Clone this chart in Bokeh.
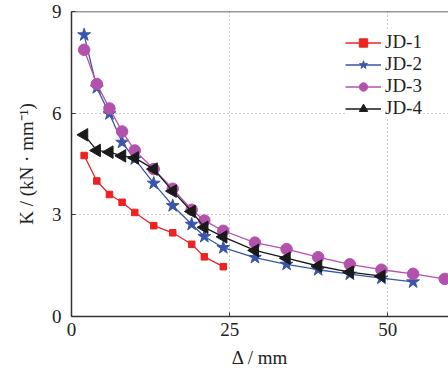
import math
from bokeh.plotting import figure
from bokeh.models import Range1d, FixedTicker, Span, Legend, LegendItem
from bokeh.embed import file_html
from bokeh.resources import INLINE

# ---- data ----
x_jd1 = [2, 4, 6, 8, 10, 13, 16, 19, 21, 24]
k_jd1 = [4.75, 4.0, 3.6, 3.37, 3.07, 2.68, 2.47, 2.13, 1.76, 1.47]

x_jd2 = [2, 4, 6, 8, 10, 13, 16, 19, 21, 24, 29, 34, 39, 44, 49, 54]
k_jd2 = [8.31, 6.75, 5.98, 5.14, 4.65, 3.93, 3.27, 2.72, 2.36, 2.03, 1.74, 1.54, 1.38, 1.25, 1.13, 1.02]

x_jd3 = [2, 4, 6, 8, 10, 13, 16, 19, 21, 24, 29, 34, 39, 44, 49, 54, 59]
k_jd3 = [7.87, 6.86, 6.14, 5.46, 4.9, 4.35, 3.77, 3.15, 2.83, 2.53, 2.18, 1.99, 1.75, 1.54, 1.38, 1.26, 1.11]

x_jd4 = [2, 4, 6, 8, 10, 13, 16, 19, 21, 24, 29, 34, 39, 44, 49]
k_jd4 = [5.36, 4.9, 4.85, 4.74, 4.68, 4.35, 3.7, 3.1, 2.63, 2.35, 1.95, 1.72, 1.49, 1.31, 1.19]

series_names = ["JD-1", "JD-2", "JD-3", "JD-4"]
x_ticks = [0, 25, 50]
y_ticks = [0, 3, 6, 9]

FONT = "Liberation Serif"
AX = "#333333"
TXT = "#222222"

p = figure(width=448, height=370, output_backend="svg", toolbar_location=None,
           x_range=Range1d(0, 59.6), y_range=Range1d(0, 9),
           min_border_left=71, min_border_top=11, min_border_right=0, min_border_bottom=54)
p.outline_line_color = None
p.background_fill_color = "white"

for ax in (p.xaxis[0], p.yaxis[0]):
    ax.axis_line_color = AX
    ax.axis_line_width = 1.5
    ax.major_tick_in = 4
    ax.major_tick_out = 0
    ax.major_tick_line_color = AX
    ax.minor_tick_line_color = None
    ax.major_label_text_font = FONT
    ax.major_label_text_font_size = "19px"
    ax.major_label_text_color = TXT
    ax.axis_label_text_font = FONT
    ax.axis_label_text_font_size = "19px"
    ax.axis_label_text_font_style = "normal"
    ax.axis_label_text_color = TXT

p.xaxis.ticker = FixedTicker(ticks=x_ticks)
p.yaxis.ticker = FixedTicker(ticks=y_ticks)
p.xaxis.major_label_standoff = 6
p.yaxis.major_label_standoff = 10
p.xaxis.axis_label = "Δ / mm"
p.yaxis.axis_label = "K / (kN · mm⁻¹)"
p.xaxis.axis_label_standoff = 8
p.yaxis.axis_label_standoff = 12

for g in (p.xgrid[0], p.ygrid[0]):
    g.grid_line_color = "#9a9a9a"
    g.grid_line_dash = "1 3"
    g.grid_line_width = 1

p.add_layout(Span(location=9, dimension="width", line_color=AX, line_width=1.5))

colors = ["#ee2222", "#3a55aa", "#b352ad", "#1a1a1a"]
xs = [x_jd1, x_jd2, x_jd3, x_jd4]
ks = [k_jd1, k_jd2, k_jd3, k_jd4]
markers = ["square", "star", "circle", "triangle"]
sizes = [6.5, 13.5, 11.5, 12.5]
angles = [0, 0, 0, math.pi / 2]

items = []
for name, c, x, k, m, s, a in zip(series_names, colors, xs, ks, markers, sizes, angles):
    r1 = p.line(x, k, line_color=c, line_width=1.3)
    r2 = p.scatter(x, k, marker=m, size=s, angle=a, fill_color=c, line_color=c)
    items.append(LegendItem(label=name, renderers=[r1, r2]))

# legend: bottom-left corner in frame pixels
legend = Legend(items=items, location=(274, 197))
legend.background_fill_color = "white"
legend.background_fill_alpha = 1
legend.border_line_color = None
legend.label_text_font = FONT
legend.label_text_font_size = "19px"
legend.label_text_color = TXT
legend.label_height = 21
legend.glyph_height = 21
legend.glyph_width = 36
legend.label_standoff = 4
legend.spacing = 0
legend.padding = 5
legend.margin = 0
p.add_layout(legend)

open("out.html", "w").write(file_html(p, INLINE))
